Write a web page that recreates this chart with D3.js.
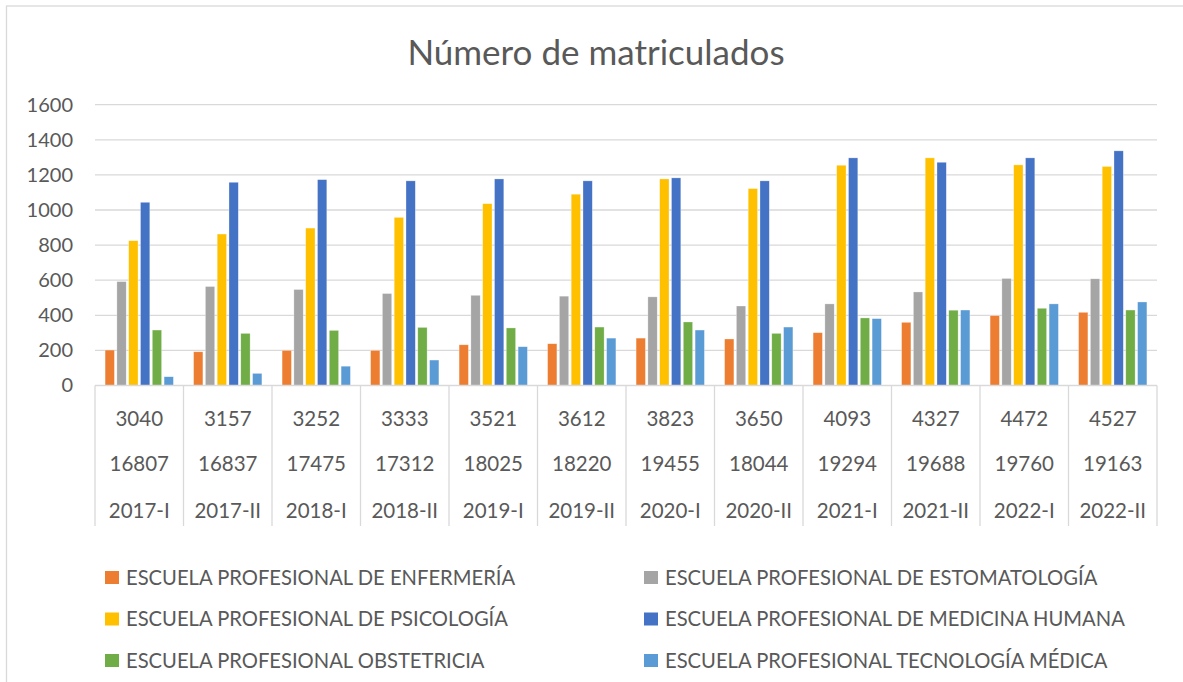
<!DOCTYPE html>
<html>
<head>
<meta charset="utf-8">
<script src="https://cdn.jsdelivr.net/npm/d3@7"></script>
<style>
  body { margin: 0; background: #fff; }
  svg text { font-family: Lato, "Open Sans", sans-serif; fill: #595959; }
</style>
</head>
<body>
<svg id="chart" width="1183" height="682"></svg>
<script>
// Periodos (categoria inferior) y filas superiores del eje
var periodos = ["2017-I", "2017-II", "2018-I", "2018-II", "2019-I", "2019-II",
                "2020-I", "2020-II", "2021-I", "2021-II", "2022-I", "2022-II"];
var fila1 = ["3040", "3157", "3252", "3333", "3521", "3612",
             "3823", "3650", "4093", "4327", "4472", "4527"];
var fila2 = ["16807", "16837", "17475", "17312", "18025", "18220",
             "19455", "18044", "19294", "19688", "19760", "19163"];

var escuelas = [
  "ESCUELA PROFESIONAL DE ENFERMERÍA",
  "ESCUELA PROFESIONAL DE ESTOMATOLOGÍA",
  "ESCUELA PROFESIONAL DE PSICOLOGÍA",
  "ESCUELA PROFESIONAL DE MEDICINA HUMANA",
  "ESCUELA PROFESIONAL OBSTETRICIA",
  "ESCUELA PROFESIONAL TECNOLOGÍA MÉDICA"
];
var colores = ["#ED7D31", "#A5A5A5", "#FFC000", "#4472C4", "#70AD47", "#5B9BD5"];

// valores
var enfermeria  = [202, 192, 200, 200, 232, 238, 270, 265, 301, 360, 398, 417];
var estomatol   = [592, 564, 547, 524, 514, 509, 505, 453, 465, 533, 610, 608];
var psicologia  = [825, 863, 897, 958, 1036, 1090, 1177, 1122, 1255, 1297, 1257, 1248];
var medicina    = [1044, 1158, 1173, 1166, 1177, 1166, 1183, 1166, 1297, 1272, 1297, 1337];
var obstetricia = [316, 297, 314, 331, 328, 333, 362, 297, 385, 429, 440, 430];
var tecnologia  = [50, 69, 110, 145, 221, 270, 316, 333, 381, 430, 465, 476];

var yTicks = [0, 200, 400, 600, 800, 1000, 1200, 1400, 1600];

var series = [enfermeria, estomatol, psicologia, medicina, obstetricia, tecnologia];

var svg = d3.select("#chart");
var grid_color = "#D9D9D9";

// Borde del area del grafico
svg.append("rect")
  .attr("x", 6.5).attr("y", 6)
  .attr("width", 1200).attr("height", 700)
  .attr("fill", "none")
  .attr("stroke", grid_color)
  .attr("stroke-width", 1.3);

// Titulo
svg.append("text")
  .attr("x", 596).attr("y", 64.5)
  .attr("text-anchor", "middle")
  .style("font-size", "35px")
  .text("Número de matriculados");

// Escalas
var x0 = d3.scaleBand().domain(periodos).range([95, 1157]);
var x1 = d3.scaleBand().domain(d3.range(6))
  .range([0, x0.bandwidth()])
  .paddingInner(0.21).paddingOuter(0.855);
var y = d3.scaleLinear().domain([0, 1600]).range([385.5, 104.7]);

// Lineas de cuadricula
svg.append("g")
  .selectAll("line")
  .data(yTicks.slice(1))
  .enter().append("line")
  .attr("x1", 95).attr("x2", 1157)
  .attr("y1", function (d) { return y(d); })
  .attr("y2", function (d) { return y(d); })
  .attr("stroke", grid_color)
  .attr("stroke-width", 1.3);

// Eje Y
var yaxis = svg.append("g")
  .attr("transform", "translate(73,0)")
  .call(d3.axisLeft(y).tickValues(yTicks).tickFormat(d3.format("d")).tickSize(0).tickPadding(0));
yaxis.select(".domain").remove();
yaxis.selectAll("text")
  .style("font-size", "20px")
  .style("font-family", "Lato, sans-serif")
  .attr("fill", "#595959");

// Barras
var grupos = svg.append("g")
  .selectAll("g")
  .data(periodos)
  .enter().append("g")
  .attr("transform", function (p) { return "translate(" + x0(p) + ",0)"; });

grupos.selectAll("rect")
  .data(function (p, i) { return series.map(function (s, k) { return { k: k, v: s[i] }; }); })
  .enter().append("rect")
  .attr("x", function (d) { return x1(d.k); })
  .attr("width", x1.bandwidth())
  .attr("y", function (d) { return y(d.v); })
  .attr("height", function (d) { return y(0) - y(d.v); })
  .attr("fill", function (d) { return colores[d.k]; })
  .attr("stroke", "#fff")
  .attr("stroke-opacity", 0.5)
  .attr("stroke-width", 0.6);

// Eje de categorias (tabla de tres filas)
var tabla = svg.append("g");
tabla.append("line")
  .attr("x1", 95).attr("x2", 1157)
  .attr("y1", y(0)).attr("y2", y(0))
  .attr("stroke", grid_color).attr("stroke-width", 1.3);
tabla.selectAll("line.sep")
  .data(periodos.concat(["fin"]))
  .enter().append("line")
  .classed("sep", true)
  .attr("x1", function (p, i) { return i < periodos.length ? x0(p) : x0.range()[1]; })
  .attr("x2", function (p, i) { return i < periodos.length ? x0(p) : x0.range()[1]; })
  .attr("y1", y(0)).attr("y2", 526)
  .attr("stroke", grid_color).attr("stroke-width", 1.3);

var filas = [[fila1, 426], [fila2, 471], [periodos, 518]];
filas.forEach(function (f) {
  tabla.append("g")
    .selectAll("text")
    .data(f[0])
    .enter().append("text")
    .attr("x", function (t, i) { return x0(periodos[i]) + x0.bandwidth() / 2; })
    .attr("y", f[1])
    .attr("text-anchor", "middle")
    .style("font-size", "20.5px")
    .text(function (t) { return t; });
});

// Leyenda
var leyenda = svg.append("g")
  .selectAll("g")
  .data(escuelas)
  .enter().append("g")
  .attr("transform", function (e, i) {
    return "translate(" + (i % 2 ? 644 : 105) + "," + (571 + Math.floor(i / 2) * 41.5) + ")";
  });
leyenda.append("rect")
  .attr("width", 14).attr("height", 13)
  .attr("fill", function (e, i) { return colores[i]; });
leyenda.append("text")
  .attr("x", 21).attr("y", 13.5)
  .style("font-size", "20.2px")
  .text(function (e) { return e; });
</script>
</body>
</html>
